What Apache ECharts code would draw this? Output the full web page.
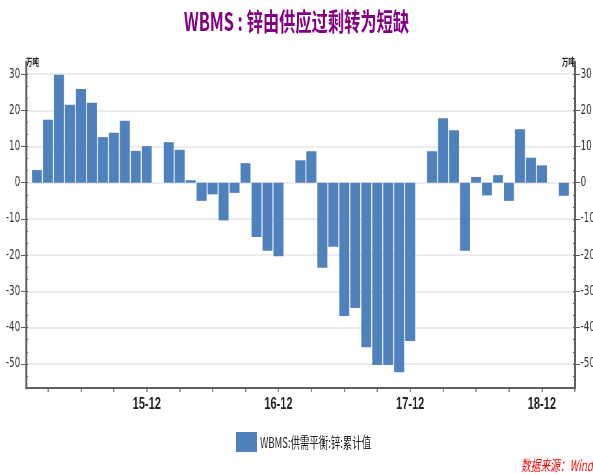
<!DOCTYPE html>
<html>
<head>
<meta charset="utf-8">
<script src="https://cdn.jsdelivr.net/npm/echarts@6/dist/echarts.min.js"></script>
<style>
  html, body { margin: 0; padding: 0; background: #fff; overflow: hidden; }
  /* the source picture is squeezed horizontally, so draw wide and squeeze */
  #chart { width: 912px; height: 474px; transform: scaleX(0.6502); transform-origin: 0 0; }
</style>
</head>
<body>
<div id="chart"></div>
<script>
// months 2015-01 .. 2019-03 (Jan figures missing in the source)
const months = [];
for (let y = 15; y <= 19; y++) {
  for (let m = 1; m <= 12; m++) {
    if (y === 19 && m > 3) break;
    months.push(y + '-' + (m < 10 ? '0' + m : m));
  }
}
// WBMS zinc supply/demand balance, cumulative, 万吨
const balance = [
  null, 3.5, 17.4, 29.8, 21.5, 25.9, 22.1, 12.6, 13.8, 17.1, 8.8, 10.1,      // 2015
  null, 11.2, 9.1, 0.7, -5.0, -3.2, -10.4, -2.8, 5.4, -15.0, -18.8, -20.3,   // 2016
  null, 6.2, 8.7, -23.5, -17.7, -36.8, -34.6, -45.4, -50.3, -50.3, -52.3, -43.7, // 2017
  null, 8.7, 17.8, 14.5, -18.8, 1.6, -3.5, 2.1, -5.0, 14.8, 6.9, 4.8,        // 2018
  null, -3.6, null                                                            // 2019
];
const yTicks = [-50, -40, -30, -20, -10, 0, 10, 20, 30];
const yMin = -170 / 3, yMax = 100 / 3;

const cjk = '"Noto Sans CJK SC", sans-serif';
const axisGray = '#5f5f5f';

function mainAxis(pos) {
  return {
    type: 'value', position: pos, min: yMin, max: yMax,
    name: '万吨', nameGap: 0,
    nameTextStyle: { fontFamily: cjk, fontSize: 10, fontWeight: 'bold', color: '#222',
      align: pos === 'left' ? 'left' : 'right', verticalAlign: 'middle' },
    axisLine: { show: true, lineStyle: { color: axisGray, width: 3 } },
    axisTick: { show: true, inside: false, length: 8, customValues: yTicks,
      lineStyle: { color: axisGray, width: 1 } },
    axisLabel: { customValues: yTicks, margin: pos === 'left' ? 9 : 9,
      fontFamily: '"DejaVu Sans", sans-serif', fontSize: 13.5, color: '#333' },
    splitLine: { show: pos === 'left', lineStyle: { color: '#ececec', width: 2 } }
  };
}
function minorAxis(pos) {
  return {
    type: 'value', position: pos, min: yMin, max: yMax, interval: 10 / 3,
    axisLine: { show: false },
    axisTick: { show: true, inside: true, length: 3, lineStyle: { color: axisGray } },
    axisLabel: { show: false },
    splitLine: { show: false }
  };
}

const chart = echarts.init(document.getElementById('chart'));
chart.setOption({
  animation: false,
  title: {
    text: 'WBMS : 锌由供应过剩转为短缺',
    left: 'center', top: 4,
    textStyle: { fontFamily: cjk, fontSize: 25, fontWeight: 'bold', color: '#800080' }
  },
  grid: { left: 40, right: 28, top: 62, bottom: 86, outerBoundsMode: 'none', containLabel: false },
  legend: {
    left: 358, top: 427, itemWidth: 32, itemHeight: 20, icon: 'rect',
    textStyle: { fontFamily: cjk, fontSize: 14.5, color: '#222' },
    data: ['WBMS:供需平衡:锌:累计值']
  },
  xAxis: {
    type: 'category', data: months, boundaryGap: false,
    axisLine: { onZero: false, lineStyle: { color: axisGray, width: 2 } },
    axisTick: { length: 4, interval: function (i) { return i % 3 === 2; },
      lineStyle: { color: axisGray, width: 1.5 } },
    axisLabel: {
      interval: function (i) { return i % 12 === 11; },
      margin: 8, fontFamily: '"Liberation Sans Narrow", "Liberation Sans", sans-serif',
      fontSize: 17, fontWeight: 'bold', color: '#222'
    },
    splitLine: { show: false }
  },
  yAxis: [mainAxis('left'), mainAxis('right'), minorAxis('left'), minorAxis('right')],
  series: [{
    name: 'WBMS:供需平衡:锌:累计值',
    type: 'bar', yAxisIndex: 0, data: balance,
    barCategoryGap: '9%',
    itemStyle: { color: '#4F81BD' }
  }],
  graphic: [{
    type: 'text', right: 0, top: 458,
    style: { text: '数据来源：Wind', fill: '#ff0000', fontSize: 15, fontStyle: 'italic',
      fontFamily: cjk }
  }]
});
</script>
</body>
</html>
